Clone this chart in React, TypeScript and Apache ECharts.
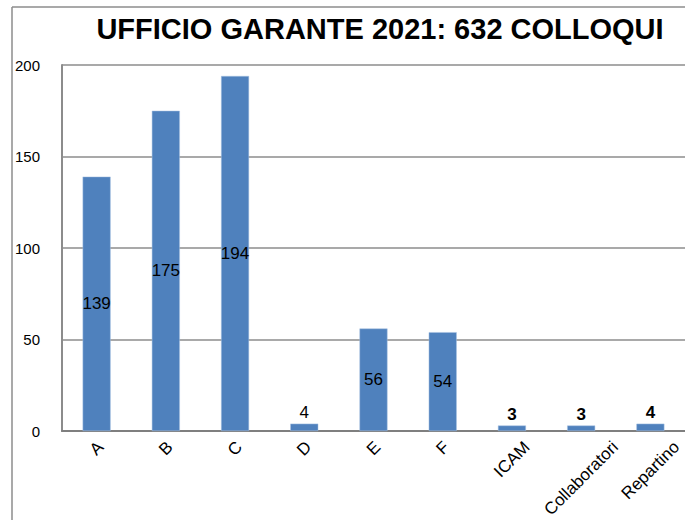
import React, { useEffect, useRef } from "react";
import * as echarts from "echarts";

const categories = ["A", "B", "C", "D", "E", "F", "ICAM", "Collaboratori", "Repartino"];
const values = [139, 175, 194, 4, 56, 54, 3, 3, 4];
const boldLabels = ["ICAM", "Collaboratori", "Repartino"];
const yTicks = [0, 50, 100, 150, 200];
const titleText = "UFFICIO GARANTE 2021: 632 COLLOQUI";

const X_FONT = 17;
const X_FAMILY = "Liberation Sans";

function measure(text: string): number {
  const c = document.createElement("canvas").getContext("2d");
  if (!c) return text.length * X_FONT * 0.55;
  c.font = `${X_FONT}px ${X_FAMILY}`;
  return c.measureText(text).width;
}

export default function App() {
  const ref = useRef<HTMLDivElement>(null);
  useEffect(() => {
    if (!ref.current) return;
    const chart = echarts.init(ref.current, null, { renderer: "svg" });
    const data = values.map((v, i) => ({
      value: v,
      label: {
        show: true,
        position: v >= 50 ? "inside" : "top",
        distance: 3,
        color: "#000",
        fontSize: 17,
        fontFamily: "Liberation Sans",
        fontWeight: boldLabels.includes(categories[i]) ? "bold" : "normal",
      },
    }));
    const widths = categories.map((c) => measure(c));
    chart.setOption({
      animation: false,
      backgroundColor: "#fff",
      grid: { left: 62, top: 65, width: 630, height: 366, containLabel: false },
      graphic: [
        { type: "line", shape: { x1: 12, y1: 7, x2: 685, y2: 7 }, style: { stroke: "#8c8c8c", lineWidth: 1.5 } },
        { type: "line", shape: { x1: 12, y1: 7, x2: 12, y2: 520 }, style: { stroke: "#8c8c8c", lineWidth: 1.5 } },
        {
          type: "text",
          x: 380,
          y: 29,
          style: {
            text: titleText,
            fontSize: 29,
            fontWeight: "bold",
            fontFamily: "Liberation Sans Narrow, Liberation Sans",
            fill: "#000",
            textAlign: "center",
            textVerticalAlign: "middle",
          },
        },
      ],
      xAxis: {
        type: "category",
        data: categories,
        axisLine: { show: true, lineStyle: { color: "#7f7f7f", width: 2 } },
        axisTick: { show: false },
        axisLabel: { show: false },
      },
      yAxis: {
        type: "value",
        min: yTicks[0],
        max: yTicks[yTicks.length - 1],
        interval: 50,
        axisLine: { show: true, lineStyle: { color: "#8c8c8c", width: 2 } },
        axisTick: { show: false },
        axisLabel: { margin: 22, fontSize: 15, color: "#000", fontFamily: "Liberation Sans" },
        splitLine: { show: true, lineStyle: { color: "#8c8c8c", width: 1.5 } },
      },
      series: [
        {
          type: "bar",
          data,
          barWidth: 28,
          itemStyle: { color: "#4f81bd", borderColor: "#a9c3e3", borderWidth: 0.5 },
        },
        {
          type: "custom",
          clip: false,
          silent: true,
          data: categories.map((_, i) => [i, 0]),
          renderItem: (params: any, api: any) => {
            const i = params.dataIndex;
            const pt = api.coord([api.value(0), api.value(1)]);
            const H = (widths[i] + 12) * Math.SQRT1_2;
            return {
              type: "text",
              x: pt[0],
              y: pt[1] + 9 + H / 2,
              rotation: Math.PI / 4,
              style: {
                text: categories[i],
                fontSize: X_FONT,
                fontFamily: X_FAMILY,
                fill: "#000",
                align: "center",
                verticalAlign: "middle",
              },
            };
          },
        },
      ],
    });
    return () => chart.dispose();
  }, []);
  return <div ref={ref} style={{ position: "fixed", left: 0, top: 0, width: 685, height: 520 }} />;
}
